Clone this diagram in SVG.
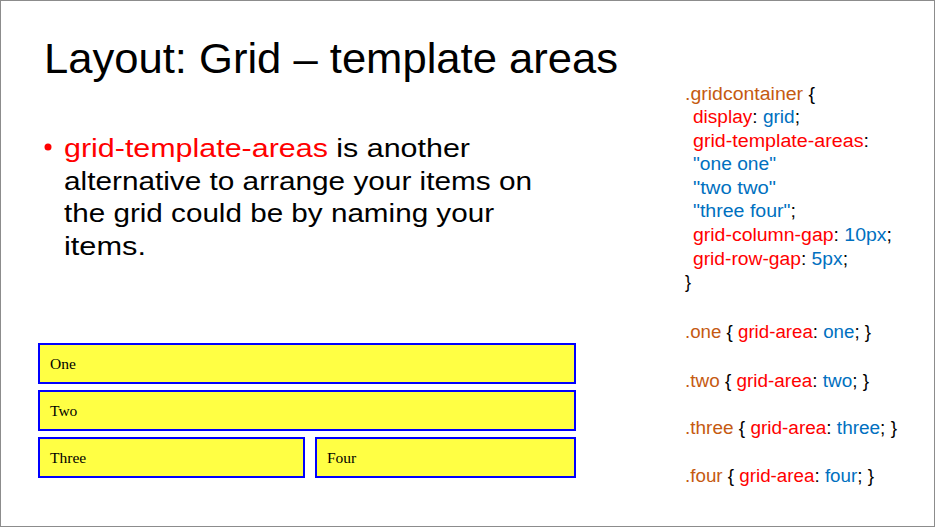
<svg xmlns="http://www.w3.org/2000/svg" width="935" height="527" viewBox="0 0 935 527">
<style>
.title{font-family:"Liberation Sans",Arial,sans-serif;font-size:43px;fill:#000}
.body{font-family:"Liberation Sans",Arial,sans-serif;font-size:26.5px;fill:#000}
.code{font-family:"Liberation Sans",Arial,sans-serif;font-size:18px;fill:#000}
.sel{fill:#C55A11}
.prop{fill:#FF0000}
.val{fill:#0070C0}
.box{fill:#FFFF44;stroke:#0000FF;stroke-width:2}
.lbl{font-family:"Liberation Serif","Times New Roman",serif;font-size:15.5px;fill:#000}
</style>
<rect x="0.5" y="0.5" width="934" height="526" fill="#fff" stroke="#8c8c8c" stroke-width="1"/>
<text class="title" x="44" y="73" textLength="574" lengthAdjust="spacingAndGlyphs">Layout: Grid – template areas</text>
<circle cx="48" cy="147" r="3.5" fill="#FF0000"/>
<text class="body" x="64" y="157" textLength="406" lengthAdjust="spacingAndGlyphs"><tspan fill="#FF0000">grid-template-areas</tspan> is another</text>
<text class="body" x="64" y="190" textLength="468" lengthAdjust="spacingAndGlyphs">alternative to arrange your items on</text>
<text class="body" x="64" y="222" textLength="430" lengthAdjust="spacingAndGlyphs">the grid could be by naming your</text>
<text class="body" x="64" y="255" textLength="82" lengthAdjust="spacingAndGlyphs">items.</text>
<g id="code">
<text class="code" x="685" y="99.5" textLength="130" lengthAdjust="spacingAndGlyphs"><tspan class="sel">.gridcontainer</tspan> {</text>
<text class="code" x="693" y="123" textLength="107" lengthAdjust="spacingAndGlyphs"><tspan class="prop">display</tspan>: <tspan class="val">grid</tspan>;</text>
<text class="code" x="693" y="147" textLength="176" lengthAdjust="spacingAndGlyphs"><tspan class="prop">grid-template-areas</tspan>:</text>
<text class="code val" x="693" y="170" textLength="83" lengthAdjust="spacingAndGlyphs">"one one"</text>
<text class="code val" x="693" y="193.5" textLength="83" lengthAdjust="spacingAndGlyphs">"two two"</text>
<text class="code" x="693" y="217" textLength="103" lengthAdjust="spacingAndGlyphs"><tspan class="val">"three four"</tspan>;</text>
<text class="code" x="693" y="241" textLength="199" lengthAdjust="spacingAndGlyphs"><tspan class="prop">grid-column-gap</tspan>: <tspan class="val">10px</tspan>;</text>
<text class="code" x="693" y="264.5" textLength="155" lengthAdjust="spacingAndGlyphs"><tspan class="prop">grid-row-gap</tspan>: <tspan class="val">5px</tspan>;</text>
<text class="code" x="685" y="288">}</text>
<text class="code" x="685" y="338" textLength="186" lengthAdjust="spacingAndGlyphs"><tspan class="sel">.one</tspan> { <tspan class="prop">grid-area</tspan>: <tspan class="val">one</tspan>; }</text>
<text class="code" x="685" y="386.5" textLength="184" lengthAdjust="spacingAndGlyphs"><tspan class="sel">.two</tspan> { <tspan class="prop">grid-area</tspan>: <tspan class="val">two</tspan>; }</text>
<text class="code" x="685" y="434" textLength="212" lengthAdjust="spacingAndGlyphs"><tspan class="sel">.three</tspan> { <tspan class="prop">grid-area</tspan>: <tspan class="val">three</tspan>; }</text>
<text class="code" x="685" y="482" textLength="189" lengthAdjust="spacingAndGlyphs"><tspan class="sel">.four</tspan> { <tspan class="prop">grid-area</tspan>: <tspan class="val">four</tspan>; }</text>
</g>
<g id="one"><rect class="box" x="39" y="344" width="536" height="39"/><text class="lbl" x="50" y="369">One</text></g>
<g id="two"><rect class="box" x="39" y="391" width="536" height="39"/><text class="lbl" x="50" y="416">Two</text></g>
<g id="three"><rect class="box" x="39" y="438" width="265" height="39"/><text class="lbl" x="50" y="463">Three</text></g>
<g id="four"><rect class="box" x="316" y="438" width="259" height="39"/><text class="lbl" x="327" y="463">Four</text></g>
<g id="connectors"></g>
</svg>
